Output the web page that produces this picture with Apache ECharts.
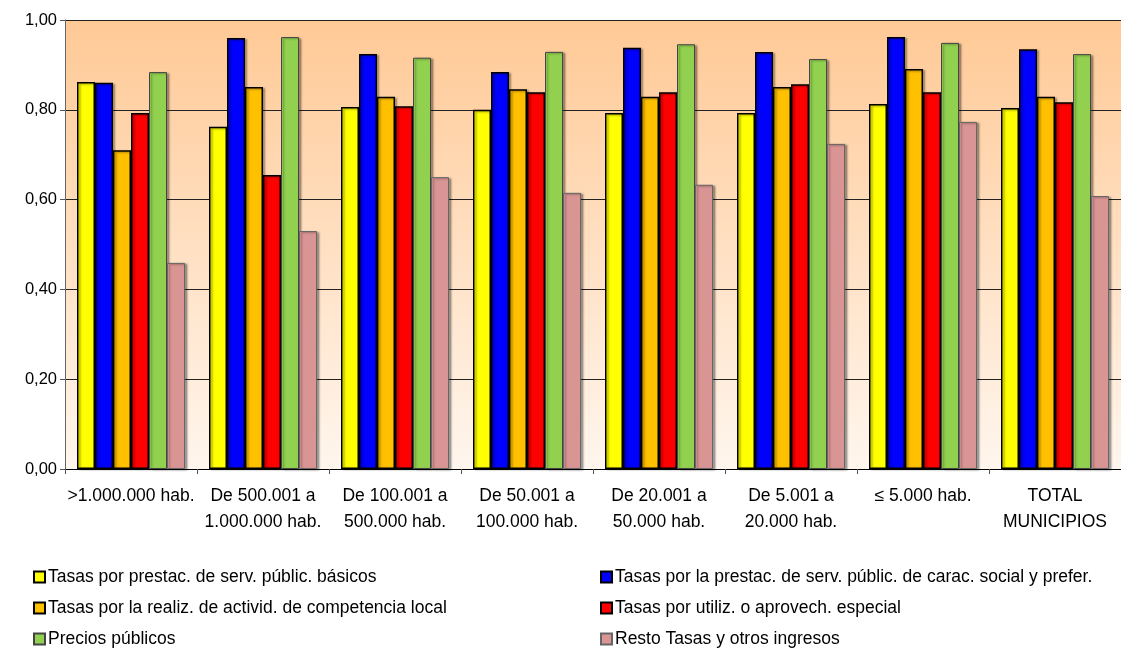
<!DOCTYPE html>
<html><head><meta charset="utf-8">
<script src="https://cdn.jsdelivr.net/npm/echarts@6/dist/echarts.min.js"></script>
<style>html,body{margin:0;padding:0;background:#fff}#c{width:1121px;height:653px}</style>
</head><body><div id="c"></div>
<script>
const categories = [">1.000.000 hab.", "De 500.001 a\n1.000.000 hab.", "De 100.001 a\n500.000 hab.", "De 50.001 a\n100.000 hab.", "De 20.001 a\n50.000 hab.", "De 5.001 a\n20.000 hab.", "≤ 5.000 hab.", "TOTAL\nMUNICIPIOS"];
const seriesNames = ["Tasas por prestac. de serv. públic. básicos", "Tasas por la prestac. de serv. públic. de carac. social y prefer.", "Tasas por la realiz. de activid. de competencia local", "Tasas por utiliz. o aprovech. especial", "Precios públicos", "Resto Tasas y otros ingresos"];
const basicos   = [0.862, 0.762, 0.806, 0.800, 0.793, 0.793, 0.813, 0.804];
const social    = [0.860, 0.960, 0.924, 0.884, 0.938, 0.929, 0.962, 0.935];
const actividad = [0.710, 0.851, 0.829, 0.846, 0.829, 0.851, 0.891, 0.829];
const utiliz    = [0.793, 0.655, 0.808, 0.839, 0.839, 0.857, 0.839, 0.817];
const precios   = [0.884, 0.962, 0.916, 0.929, 0.946, 0.913, 0.949, 0.924];
const resto     = [0.459, 0.530, 0.650, 0.615, 0.633, 0.724, 0.773, 0.608];
const yTicks = [0, 0.2, 0.4, 0.6, 0.8, 1.0];

const colors = ["#FFFF00", "#0000FF", "#FFC000", "#FF0000", "#92D050", "#D99594"];
const borders = ["#000", "#000", "#000", "#000", "#444", "#666"];
const values = [basicos, social, actividad, utiliz, precios, resto];
const FONT = "'Liberation Sans Narrow', 'Arial Narrow', 'Liberation Sans', sans-serif";

const legendBase = {top: 568, height: 90, orient: 'vertical', padding: 0, itemGap: 13, itemWidth: 11, itemHeight: 11, icon: 'rect',
  textStyle: {fontFamily: FONT, fontSize: 17.5, color: '#000', padding: [0,0,0,-2]}};

const chart = echarts.init(document.getElementById('c'), null, {renderer: 'canvas'});
chart.setOption({
  animation: false,
  backgroundColor: '#fff',
  grid: {
    left: 65, right: 0, top: 20, bottom: 184, show: true, borderWidth: 0,
    backgroundColor: new echarts.graphic.LinearGradient(0, 0, 0, 1, [
      {offset: 0, color: '#FFC995'}, {offset: 1, color: '#FFF6EE'}
    ])
  },
  legend: [
    Object.assign({left: 33, data: [seriesNames[0], seriesNames[2], seriesNames[4]]}, legendBase),
    Object.assign({left: 600, data: [seriesNames[1], seriesNames[3], seriesNames[5]]}, legendBase)
  ],
  xAxis: {
    type: 'category', data: categories,
    axisLine: {lineStyle: {color: '#000', width: 1}},
    axisTick: {show: true, length: 5, lineStyle: {color: '#555'}},
    axisLabel: {fontFamily: FONT, fontSize: 17.5, color: '#000', lineHeight: 26, margin: 14, interval: 0}
  },
  yAxis: {
    type: 'value', min: 0, max: 1, interval: 0.2,
    axisLine: {show: true, lineStyle: {color: '#666'}},
    axisTick: {show: true, length: 5, lineStyle: {color: '#555'}},
    splitLine: {show: true, lineStyle: {color: '#222', width: 1}},
    axisLabel: {fontFamily: FONT, fontSize: 16.5, color: '#000', margin: 8,
      formatter: v => v.toFixed(2).replace('.', ',')}
  },
  series: values.map((d, i) => ({
    name: seriesNames[i], type: 'bar', data: d,
    barWidth: 18, barGap: '0%',
    itemStyle: {color: colors[i], borderColor: borders[i], borderWidth: i < 4 ? 1.5 : 1,
      shadowColor: 'rgba(0,0,0,0.35)', shadowOffsetX: 2, shadowOffsetY: 1, shadowBlur: 2}
  }))
});
</script></body></html>
